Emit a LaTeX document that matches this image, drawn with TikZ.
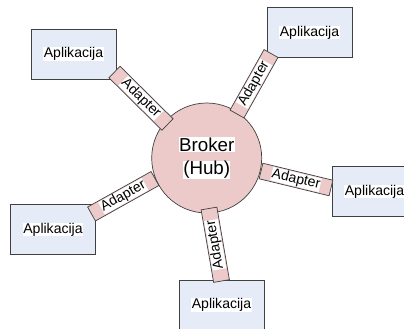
\documentclass[tikz,border=0pt]{standalone}
\usepackage{fontspec}
\setmainfont{Liberation Sans}

\newcommand{\pxu}{0.03cm}
\newcommand{\hlt}[1]{{\setlength{\fboxsep}{0.3pt}\colorbox{white}{#1}}}

\definecolor{boxblue}{HTML}{E6ECF7}
\definecolor{hubpink}{HTML}{ECCACA}
\definecolor{edgegray}{HTML}{404040}

\tikzset{
	app/.style = {draw = edgegray, fill = boxblue, line width = 0.6pt, minimum width = 85*\pxu, minimum height = 50*\pxu, font = \fontsize{12}{14}\selectfont},
	hub/.style = {circle, draw = edgegray, fill = hubpink, line width = 0.6pt, minimum size = 110*\pxu, inner sep = 0pt, align = center, font = \fontsize{16}{19.8}\selectfont},
	adapter/.style = {draw = edgegray, fill = hubpink, line width = 0.6pt, sloped, allow upside down, minimum height = 16*\pxu, inner sep = 0pt},
	adaptertext/.style = {sloped, allow upside down, fill = white, inner sep = 0.3pt, font = \fontsize{12}{14}\selectfont}
}

\begin{document}
\begin{tikzpicture}[x = \pxu, y = -\pxu]

	\useasboundingbox (0, 0) rectangle (404, 328);

	% Hub + applications
	
	\node [hub] (hub) at (206.7, 158) {\hlt{Broker}\\\hlt{(Hub)}};
	
	\node [app] (app1) at (73.5, 54) {\hlt{Aplikacija}};
	\node [app] (app2) at (309.5, 32.5) {\hlt{Aplikacija}};
	\node [app] (app3) at (374.5, 191.5) {\hlt{Aplikacija}};
	\node [app] (app4) at (53, 229.5) {\hlt{Aplikacija}};
	\node [app] (app5) at (221.5, 305) {\hlt{Aplikacija}};
	
	% Adapter ends
	
	\coordinate (s1) at (114.5, 72);	\coordinate (e1) at (167.5, 124.5);
	\coordinate (s2) at (237, 114);		\coordinate (e2) at (271, 53.5);
	\coordinate (s3) at (261, 171);		\coordinate (e3) at (331, 188);
	\coordinate (s4) at (91.5, 214);	\coordinate (e4) at (155, 178.5);
	\coordinate (s5) at (221.5, 281);	\coordinate (e5) at (209, 208.5);
	
	% Adapters
	
	\foreach \n/\len in {1/74.6, 2/69.4, 3/72, 4/72.7, 5/73.6}
		\path (s\n) -- node [adapter, minimum width = \len*\pxu] {} node [adaptertext] {Adapter} (e\n);

\end{tikzpicture}
\end{document}
